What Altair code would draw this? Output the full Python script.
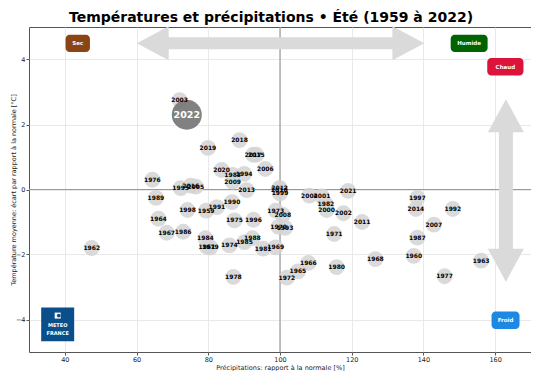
import altair as alt
import pandas as pd

# ---- data ----
years = [1959, 1960, 1961, 1962, 1963, 1964, 1965, 1966, 1967, 1968,
         1969, 1970, 1971, 1972, 1973, 1974, 1975, 1976, 1977, 1978,
         1979, 1980, 1981, 1982, 1983, 1984, 1985, 1986, 1987, 1988,
         1989, 1990, 1991, 1992, 1993, 1994, 1995, 1996, 1997, 1998,
         1999, 2000, 2001, 2002, 2003, 2004, 2005, 2006, 2007, 2008,
         2009, 2010, 2011, 2012, 2013, 2014, 2015, 2016, 2017, 2018,
         2019, 2020, 2021, 2022]
precip = [79.4, 137.3, 79.6, 47.5, 156.1, 66.1, 105.0, 107.9, 68.4, 126.6,
          98.8, 99.6, 115.1, 101.9, 98.8, 85.9, 87.3, 64.4, 145.9, 87.0,
          80.6, 115.8, 95.3, 112.8, 86.8, 79.2, 90.1, 73.0, 138.3, 92.3,
          65.4, 86.6, 82.4, 148.2, 101.4, 90.0, 72.3, 92.6, 138.3, 74.2,
          100.0, 113.0, 111.7, 117.7, 72.0, 108.2, 76.5, 95.9, 142.9, 100.8,
          86.8, 99.8, 122.9, 99.9, 90.7, 137.9, 93.4, 75.1, 92.5, 88.7,
          79.9, 83.7, 119.0, 74.0]
temp = [-0.65, -2.04, -1.76, -1.80, -2.19, -0.90, -2.52, -2.26, -1.33, -2.14,
        -1.78, -1.15, -1.37, -2.71, -0.65, -1.72, -0.95, 0.30, -2.67, -2.69,
        -1.78, -2.39, -1.82, -0.46, 0.45, -1.50, -1.62, -1.30, -1.48, -1.50,
        -0.26, -0.39, -0.54, -0.60, -1.18, 0.48, 0.04, -0.93, -0.26, -0.63,
        -0.12, -0.63, -0.21, -0.73, 2.75, -0.19, 0.09, 0.63, -1.08, -0.78,
        0.24, 0.00, -1.00, 0.05, -0.02, -0.60, 1.07, 0.12, 1.07, 1.52,
        1.28, 0.60, -0.04, 2.30]
highlight_year = 2022

x_ticks = [40, 60, 80, 100, 120, 140, 160]
y_ticks = [-4, -2, 0, 2, 4]

# annotation boxes
box_labels = ["Sec", "Humide", "Chaud", "Froid"]
box_x1 = [40.2, 147.6, 157.8, 159.0]
box_x2 = [47.0, 157.9, 167.9, 166.8]
box_y1 = [4.23, 4.23, 3.51, -3.75]
box_y2 = [4.76, 4.76, 4.05, -4.29]
box_colors = ["#8B4513", "#006400", "#DC143C", "#1E88E5"]

# ---- frames ----
df = pd.DataFrame({"year": years, "precip": precip, "temp": temp})
df["label"] = df["year"].astype(str)
base_df = df[df["year"] != highlight_year]
hi_df = df[df["year"] == highlight_year]

X = alt.X("precip:Q", scale=alt.Scale(domain=[30, 170], nice=False, zero=False),
          axis=alt.Axis(values=x_ticks, title="Précipitations: rapport à la normale [%]",
                        grid=True, titleY=12, titleBaseline="top"))
Y = alt.Y("temp:Q", scale=alt.Scale(domain=[-5, 5], nice=False, zero=False),
          axis=alt.Axis(values=y_ticks, title="Température moyenne: écart par rapport à la normale [°C]",
                        grid=True, titleX=-13))

grey = "#dadada"

# zero lines
zero_v = alt.Chart(pd.DataFrame({"precip": [100]})).mark_rule(color="#9a9a9a", strokeWidth=1.2).encode(x=X)
zero_h = alt.Chart(pd.DataFrame({"temp": [0]})).mark_rule(color="#9a9a9a", strokeWidth=1.2).encode(y=Y)

# horizontal arrow (Sec <-> Humide)
h_shaft = alt.Chart(pd.DataFrame({"precip": [68.0], "p2": [132.0], "temp": [4.5]})).mark_rule(
    color=grey, strokeWidth=12).encode(x=X, x2="p2:Q", y=Y)
h_head_r = alt.Chart(pd.DataFrame({"precip": [135.8], "temp": [4.5]})).mark_point(
    shape="M-1,-1.06L1,0L-1,1.06Z", filled=True, color=grey, opacity=1, size=1024).encode(x=X, y=Y)
h_head_l = alt.Chart(pd.DataFrame({"precip": [64.5], "temp": [4.5]})).mark_point(
    shape="M1,-1.06L-1,0L1,1.06Z", filled=True, color=grey, opacity=1, size=1024).encode(x=X, y=Y)

# vertical arrow (Chaud <-> Froid)
v_shaft = alt.Chart(pd.DataFrame({"precip": [163.0], "temp": [2.0], "t2": [-2.0]})).mark_rule(
    color=grey, strokeWidth=14).encode(x=X, y=Y, y2="t2:Q")
v_head_u = alt.Chart(pd.DataFrame({"precip": [163.0], "temp": [2.27]})).mark_point(
    shape="M-1.09,1L0,-1L1.09,1Z", filled=True, color=grey, opacity=1, size=1089).encode(x=X, y=Y)
v_head_d = alt.Chart(pd.DataFrame({"precip": [163.0], "temp": [-2.33]})).mark_point(
    shape="M-1.09,-1L0,1L1.09,-1Z", filled=True, color=grey, opacity=1, size=1089).encode(x=X, y=Y)

# points
pts = alt.Chart(base_df).mark_circle(size=250, color="#d3d3d3", opacity=0.85).encode(x=X, y=Y)
pts_hi = alt.Chart(hi_df).mark_circle(size=900, color="#7a7a7a", opacity=0.95).encode(x=X, y=Y)
labels = alt.Chart(base_df).mark_text(font="DejaVu Sans", fontWeight="bold", fontSize=6,
                                      color="black").encode(x=X, y=Y, text="label:N")
label_hi = alt.Chart(hi_df).mark_text(font="DejaVu Sans", fontWeight="bold", fontSize=9.5,
                                      color="white").encode(x=X, y=Y, text="label:N")

# boxes
bdf = pd.DataFrame({"precip": box_x1, "p2": box_x2, "temp": box_y1, "t2": box_y2,
                    "lab": box_labels, "col": box_colors})
bdf["cx"] = (bdf["precip"] + bdf["p2"]) / 2
bdf["cy"] = (bdf["temp"] + bdf["t2"]) / 2
boxes = alt.Chart(bdf).mark_rect(cornerRadius=4).encode(
    x=X, x2="p2:Q", y=Y, y2="t2:Q", color=alt.Color("col:N", scale=None))
box_text = alt.Chart(bdf).mark_text(font="DejaVu Sans", fontWeight="bold", fontSize=5.5,
                                    color="white").encode(
    x=alt.X("cx:Q", scale=alt.Scale(domain=[30, 170], nice=False, zero=False)),
    y=alt.Y("cy:Q", scale=alt.Scale(domain=[-5, 5], nice=False, zero=False)),
    text="lab:N")

# logo
logo_df = pd.DataFrame({"precip": [33.4], "p2": [42.6], "temp": [-3.63], "t2": [-4.67]})
logo = alt.Chart(logo_df).mark_rect(color="#0b4f8a").encode(x=X, x2="p2:Q", y=Y, y2="t2:Q")
icon = alt.Chart(pd.DataFrame({"precip": [38.0], "temp": [-3.88]})).mark_point(
    shape="square", filled=True, color="white", opacity=1, size=36).encode(x=X, y=Y)
icon2 = alt.Chart(pd.DataFrame({"precip": [38.3], "temp": [-3.88]})).mark_point(
    shape="circle", filled=True, color="#0b4f8a", opacity=1, size=14).encode(x=X, y=Y)
logo_txt = alt.Chart(pd.DataFrame({"precip": [38.0, 38.0], "temp": [-4.18, -4.40],
                                   "t": ["METEO", "FRANCE"]})).mark_text(
    font="DejaVu Sans", fontWeight="bold", fontSize=5, color="white").encode(x=X, y=Y, text="t:N")

chart = alt.layer(
    zero_v, zero_h, h_shaft, h_head_r, h_head_l, v_shaft, v_head_u, v_head_d,
    pts, pts_hi, labels, label_hi, boxes, box_text, logo, icon, icon2, logo_txt
).properties(
    width=502, height=325,
    title=alt.TitleParams("Températures et précipitations • Été (1959 à 2022)",
                          font="DejaVu Sans", fontSize=14, fontWeight="bold",
                          color="black", anchor="middle", offset=1, dx=-9),
    autosize=alt.AutoSizeParams(type="none"),
    padding={"left": 21, "top": 19, "right": 0, "bottom": 19},
).configure_view(
    stroke="#555555", strokeWidth=1
).configure_axis(
    gridColor="#e3e3e3", gridWidth=0.8, domain=False, tickColor="#555555", tickSize=3,
    labelFont="DejaVu Sans", labelFontSize=6.5, labelColor="#222222", labelPadding=1,
    titleFont="DejaVu Sans", titleFontSize=6.5, titleFontWeight="normal", titleColor="#222222",
    titlePadding=2
)

chart.save("out.html", embed_options={"renderer": "svg", "actions": False})
